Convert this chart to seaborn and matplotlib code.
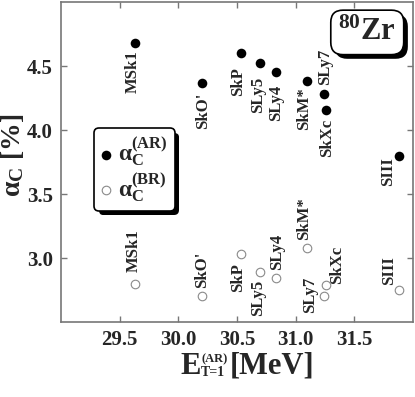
import numpy as np
import pandas as pd
import matplotlib
matplotlib.use('Agg')
import matplotlib.pyplot as plt
import matplotlib.patheffects as pe
import seaborn as sns

sns.set_theme(style='ticks')
plt.rcParams['font.family'] = ['Liberation Serif', 'DejaVu Serif']
plt.rcParams['font.weight'] = 'bold'
plt.rcParams['mathtext.fontset'] = 'custom'
plt.rcParams['mathtext.rm'] = 'Liberation Serif:bold'
plt.rcParams['mathtext.bf'] = 'Liberation Serif:bold'
plt.rcParams['mathtext.it'] = 'Liberation Serif:bold:italic'

# --- data ---
forces = ['MSk1', "SkO'", 'SkP', 'SLy5', 'SLy4', 'SkM*', 'SLy7', 'SkXc', 'SIII']
e_t1 = [29.63, 30.20, 30.53, 30.70, 30.83, 31.10, 31.24, 31.26, 31.88]
alpha_ar = [4.68, 4.37, 4.60, 4.52, 4.45, 4.38, 4.28, 4.16, 3.80]
alpha_br = [2.80, 2.70, 3.03, 2.89, 2.84, 3.08, 2.70, 2.79, 2.75]

# label offsets in pixels (dx right, dy down) relative to each marker
off_ar = [(-2, 29), (1, 28), (-2, 28), (-2, 31), (0, 31), (-3, 27), (1, -27), (1, 28), (-11, 16)]
off_br = [(-1, -33), (0, -27), (-2, 23), (-2, 26), (1, -27), (-3, -29), (-14, -2), (11, -20), (-10, -19)]

df = pd.DataFrame({'force': forces, 'E': e_t1, 'ar': alpha_ar, 'br': alpha_br})

W, H = 415, 397
fig = plt.figure(figsize=(W / 100, H / 100), dpi=100)
ax = fig.add_axes([61 / W, 1 - 322 / H, 352 / W, 320 / H])

sns.scatterplot(data=df, x='E', y='ar', ax=ax, color='black', s=48,
                edgecolor='black', linewidth=0, label=r'α$_{\mathrm{C}}^{\mathrm{(AR)}}$', zorder=3)
sns.scatterplot(data=df, x='E', y='br', ax=ax, facecolor='white', s=38,
                edgecolor='#8a8a8a', linewidth=0.8, label=r'α$_{\mathrm{C}}^{\mathrm{(BR)}}$', zorder=3)

px = 0.72  # pixels -> points
for name, x, y, (dx, dy) in zip(forces, e_t1, alpha_ar, off_ar):
    ax.annotate(name, (x, y), xytext=(dx * px, -dy * px), textcoords='offset points',
                rotation=90, ha='center', va='center', fontsize=12, fontweight='bold')
for name, x, y, (dx, dy) in zip(forces, e_t1, alpha_br, off_br):
    ax.annotate(name, (x, y), xytext=(dx * px, -dy * px), textcoords='offset points',
                rotation=90, ha='center', va='center', fontsize=12, fontweight='bold')

ax.set_xlim(29.0, 32.0)
ax.set_ylim(2.5, 5.0)
ax.set_xticks([29.5, 30.0, 30.5, 31.0, 31.5])
ax.set_yticks([3.0, 3.5, 4.0, 4.5])
ax.set_xticklabels(['29.5', '30.0', '30.5', '31.0', '31.5'])
ax.set_yticklabels(['3.0', '3.5', '4.0', '4.5'])
ax.tick_params(direction='in', length=4, width=1, color='#777777', top=True, right=True,
               labelsize=15, pad=6)
for lab in ax.get_xticklabels() + ax.get_yticklabels():
    lab.set_fontweight('bold')
for sp in ax.spines.values():
    sp.set_color('#777777')
    sp.set_linewidth(1.2)
ax.set_xlabel('')

# x label built from pieces so the indices stay small, as in the original
def ftext(x, y, s, size, **kw):
    return fig.text(x / W, 1 - y / H, s, fontsize=size, fontweight='bold', va='baseline', **kw)

ftext(180, 374, 'E', 22)
ftext(201, 362, '(AR)', 9)
ftext(201, 376, 'T=1', 10)
ftext(230, 374, '[MeV]', 22)

ax.set_ylabel(r'α$_{\mathrm{C}}$ [%]', fontsize=20, fontweight='bold')
ax.yaxis.set_label_coords(-0.10, 0.52)

shadow = [pe.SimplePatchShadow(offset=(3, -3), shadow_rgbFace='black', alpha=1), pe.Normal()]

leg = ax.legend(loc='upper left', bbox_to_anchor=(0.095, 0.605), borderaxespad=0,
                fontsize=17, frameon=True, fancybox=True, handletextpad=0.3,
                handlelength=0.4, labelspacing=0.1, borderpad=0.3, markerscale=1.0)
leg.get_frame().set_edgecolor('black')
leg.get_frame().set_linewidth(1.2)
leg.get_frame().set_alpha(1)
leg.get_frame().set_path_effects(shadow)

t = ax.text(0.87, 0.905, r'$^{\mathrm{80}}$Zr', transform=ax.transAxes, ha='center', va='center',
            fontsize=22, fontweight='bold',
            bbox=dict(boxstyle='round,pad=0.25,rounding_size=0.4', fc='white', ec='black', lw=1.2))
t.get_bbox_patch().set_path_effects(shadow)

fig.savefig('out.png', dpi=100)
